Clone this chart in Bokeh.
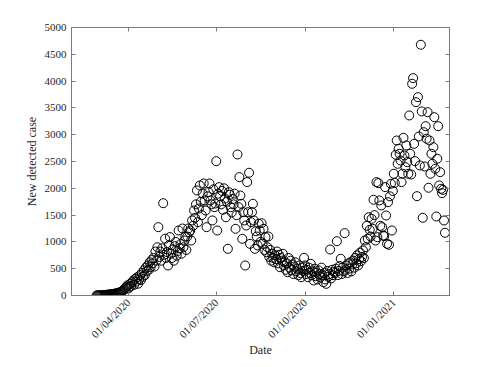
import math
from datetime import datetime
import pandas as pd
from bokeh.plotting import figure
from bokeh.models import (ColumnDataSource, Range1d, FixedTicker, DatetimeTickFormatter,
                          LinearAxis, DatetimeAxis, CustomJSTickFormatter)
from bokeh.embed import file_html
from bokeh.resources import INLINE

# ---- data (daily new detected cases) ----
start_date = "2020-02-28"
feb_2020 = [1, 2]
mar_2020 = [1, 2, 3, 3, 5, 6, 8, 10, 12, 14,
            15, 18, 20, 22, 25, 28, 30, 35, 38, 42,
            45, 50, 60, 65, 75, 90, 100, 120, 140, 160, 190]
apr_2020 = [130, 160, 220, 180, 250, 280, 200, 310, 260, 340,
            220, 300, 380, 290, 420, 350, 470, 380, 520, 450,
            560, 480, 620, 530, 660, 600, 700, 540, 820, 650]
may_2020 = [900, 1275, 720, 820, 650, 880, 1722, 760, 1060, 700,
            810, 560, 940, 1090, 780, 700, 860, 650, 920, 1000,
            740, 830, 1213, 880, 960, 780, 1250, 900, 1026, 1100, 850]
jun_2020 = [1100, 1250, 1180, 1213, 1026, 1400, 1300, 1586, 1450, 1700,
            1960, 1368, 1623, 2053, 1750, 1500, 1900, 2090, 1773, 1586,
            1275, 1850, 1928, 2090, 1773, 1700, 1400, 1980, 1648, 1716]
jul_2020 = [2506, 1213, 1900, 2022, 1850, 1700, 1950, 1600, 2000, 1810,
            1461, 1750, 871, 1928, 1880, 1648, 1550, 1800, 1700, 1900,
            1244, 1500, 2631, 1650, 2208, 1866, 1711, 1058, 1554, 1400, 560]
aug_2020 = [1306, 2115, 1554, 2290, 964, 1368, 1554, 1711, 1400, 871,
            1200, 1100, 933, 1338, 1213, 1000, 1349, 964, 1244, 850,
            1088, 808, 900, 1101, 720, 850, 650, 780, 700, 620, 750]
sep_2020 = [680, 820, 600, 760, 528, 700, 650, 778, 560, 620,
            480, 600, 435, 700, 520, 650, 470, 580, 400, 540,
            620, 450, 500, 380, 560, 420, 341, 520, 460, 703]
oct_2020 = [560, 400, 480, 341, 520, 420, 591, 380, 450, 280,
            500, 360, 430, 300, 470, 400, 340, 520, 380, 250,
            420, 300, 218, 460, 350, 400, 858, 320, 480, 380, 440]
nov_2020 = [420, 500, 1013, 380, 460, 550, 685, 400, 520, 450,
            1163, 480, 560, 420, 600, 500, 620, 450, 580, 650,
            520, 700, 600, 750, 560, 680, 800, 640, 720, 840]
dec_2020 = [700, 1026, 900, 1300, 1058, 1461, 1226, 1100, 1431, 1244,
            1786, 1500, 1026, 2115, 1088, 2096, 1773, 1300, 1680, 1275,
            1120, 1107, 2022, 1493, 964, 1741, 946, 1850, 2084, 1213, 1950]
jan_2021 = [2271, 2101, 2625, 2892, 2457, 2737, 2644, 2519, 2115, 2271,
            2942, 2612, 2394, 2799, 2488, 2271, 3359, 2644, 2258, 3950,
            4055, 2830, 2506, 3607, 1853, 3700, 2967, 2426, 4678, 3434, 1450]
feb_2021 = [3047, 2407, 3159, 2924, 3421, 2010, 2892, 2271, 2644, 2457,
            2767, 3327, 2364, 1474, 2551, 3159, 2053, 2301, 1991, 1910,
            1971, 1400, 1170]

x_tick_dates = ["2020-04-01", "2020-07-01", "2020-10-01", "2021-01-01"]
y_ticks = [0, 500, 1000, 1500, 2000, 2500, 3000, 3500, 4000, 4500, 5000]

cases = (feb_2020 + mar_2020 + apr_2020 + may_2020 + jun_2020 + jul_2020 + aug_2020 +
         sep_2020 + oct_2020 + nov_2020 + dec_2020 + jan_2021 + feb_2021)
dates = pd.date_range(start_date, periods=len(cases), freq="D")
source = ColumnDataSource(data=dict(date=dates, cases=cases))

FONT = "'Liberation Serif', 'Times New Roman', serif"
AX = "#7a7a7a"
TXT = "#262626"

p = figure(frame_width=378, frame_height=268,
           min_border_left=71, min_border_right=26, min_border_top=27, min_border_bottom=64,
           x_axis_type="datetime", output_backend="svg", toolbar_location=None,
           x_range=Range1d(datetime(2020, 2, 2), datetime(2021, 2, 27, 17)),
           y_range=Range1d(0, 5000))
p.background_fill_color = "white"
p.border_fill_color = "white"
p.outline_line_color = AX
p.xgrid.visible = False
p.ygrid.visible = False

p.scatter("date", "cases", source=source, marker="circle", size=9,
          fill_color=None, line_color="black", line_width=1)

x_ticker = FixedTicker(ticks=[pd.Timestamp(d).value / 1e6 for d in x_tick_dates])
fmt = "%d/%m/%Y"
x_fmt = DatetimeTickFormatter(microseconds=fmt, milliseconds=fmt, seconds=fmt, minsec=fmt,
                              minutes=fmt, hourmin=fmt, hours=fmt, days=fmt,
                              months=fmt, years=fmt)
y_ticker = FixedTicker(ticks=y_ticks)
blank = CustomJSTickFormatter(code="return '';")


def style(ax):
    ax.axis_line_color = AX
    ax.major_tick_line_color = AX
    ax.major_tick_in = 4
    ax.major_tick_out = 0
    ax.minor_tick_line_color = None
    ax.major_label_text_font = FONT
    ax.major_label_text_font_size = "11px"
    ax.major_label_text_color = TXT
    ax.axis_label_text_font = FONT
    ax.axis_label_text_font_size = "12px"
    ax.axis_label_text_font_style = "normal"
    ax.axis_label_text_color = TXT


xa = p.xaxis[0]
xa.ticker = x_ticker
xa.formatter = x_fmt
xa.major_label_orientation = math.pi / 4
xa.axis_label = "Date"
xa.major_label_standoff = 5
xa.axis_label_standoff = -4
style(xa)

ya = p.yaxis[0]
ya.ticker = y_ticker
ya.axis_label = "New detected case"
ya.major_label_standoff = 5
ya.axis_label_standoff = 3
style(ya)

top = DatetimeAxis(ticker=x_ticker, formatter=blank)
style(top)
top.major_label_standoff = 0
p.add_layout(top, "above")

right = LinearAxis(ticker=y_ticker, formatter=blank)
style(right)
right.major_label_standoff = 0
p.add_layout(right, "right")

open("out.html", "w").write(file_html(p, INLINE))
